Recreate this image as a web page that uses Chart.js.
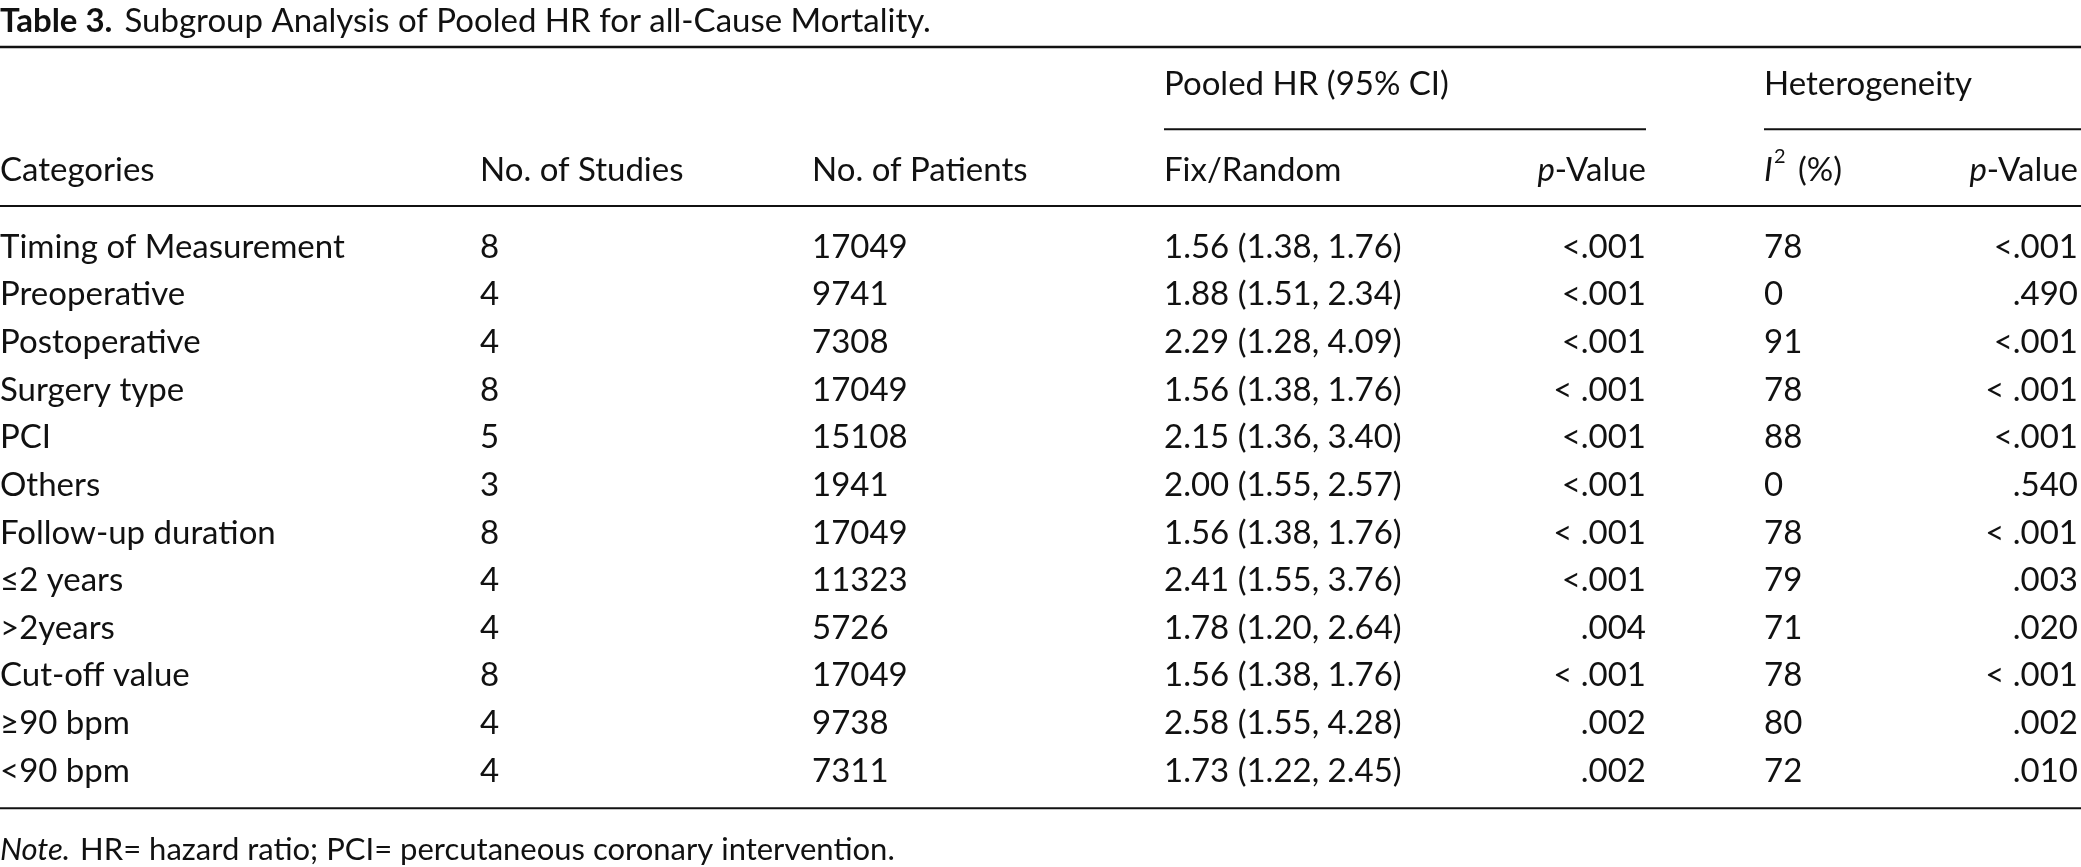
<!DOCTYPE html>
<html lang="en">
<head>
<meta charset="UTF-8">
<title>Table 3</title>
<script src="https://cdn.jsdelivr.net/npm/chart.js"></script>
<style>
  html, body { margin: 0; padding: 0; background: #fff; }
  #wrap { width: 2081px; height: 867px; }
</style>
</head>
<body>
<div id="wrap"><canvas id="tbl"></canvas></div>
<script>
const categories = ['Timing of Measurement', 'Preoperative', 'Postoperative', 'Surgery type', 'PCI', 'Others',
  'Follow-up duration', '≤2 years', '>2years', 'Cut-off value', '≥90 bpm', '<90 bpm'];
const studies = ['8', '4', '4', '8', '5', '3', '8', '4', '4', '8', '4', '4'];
const patients = ['17049', '9741', '7308', '17049', '15108', '1941', '17049', '11323', '5726', '17049', '9738', '7311'];
const pooledHR = ['1.56 (1.38, 1.76)', '1.88 (1.51, 2.34)', '2.29 (1.28, 4.09)', '1.56 (1.38, 1.76)', '2.15 (1.36, 3.40)',
  '2.00 (1.55, 2.57)', '1.56 (1.38, 1.76)', '2.41 (1.55, 3.76)', '1.78 (1.20, 2.64)', '1.56 (1.38, 1.76)',
  '2.58 (1.55, 4.28)', '1.73 (1.22, 2.45)'];
const pHR = ['<.001', '<.001', '<.001', '< .001', '<.001', '<.001', '< .001', '<.001', '.004', '< .001', '.002', '.002'];
const i2 = ['78', '0', '91', '78', '88', '0', '78', '79', '71', '78', '80', '72'];
const pHet = ['<.001', '.490', '<.001', '< .001', '<.001', '.540', '< .001', '.003', '.020', '< .001', '.002', '.010'];

const FONT = '"Lato", "Open Sans", sans-serif';
const SIZE = 33;

// one hidden point per row so the rows live on the chart's own scales
const rowPoints = categories.map((c, i) => ({ x: 0, y: i }));

const tablePlugin = {
  id: 'tablePlugin',
  afterDraw(chart) {
    const c = chart.ctx;
    const xs = chart.scales.x, ys = chart.scales.y;
    const X = v => xs.getPixelForValue(v);
    const Y = r => ys.getPixelForValue(r);
    c.save();
    c.fillStyle = '#111';
    c.strokeStyle = '#111';
    c.textBaseline = 'middle';

    const txt = (s, x, y, align, style, size) => {
      c.font = (style || '') + ' ' + (size || SIZE) + 'px ' + FONT;
      c.textAlign = align || 'left';
      c.fillText(s, x, y);
    };
    const rule = (y, x0, x1, w) => {
      c.lineWidth = w;
      c.beginPath(); c.moveTo(x0, y); c.lineTo(x1, y); c.stroke();
    };
    // p-Value header with italic p, right aligned at xr
    const pValue = (xr, y) => {
      c.font = SIZE + 'px ' + FONT;
      const w2 = c.measureText('-Value').width;
      txt('-Value', xr, y, 'right');
      txt('p', xr - w2, y, 'right', 'italic');
    };

    // title
    c.font = 'bold ' + SIZE + 'px ' + FONT;
    const tw = c.measureText('Table 3.').width;
    txt('Table 3.', 0, 21, 'left', 'bold');
    txt('Subgroup Analysis of Pooled HR for all-Cause Mortality.', tw + 12, 21);

    const left = 0, right = chart.width;
    rule(Y(-4.2), left, right, 2.5);
    txt('Pooled HR (95% CI)', X(1164), Y(-3.42));
    txt('Heterogeneity', X(1764), Y(-3.42));
    rule(Y(-2.47), X(1164), X(1646), 2);
    rule(Y(-2.47), X(1764), right, 2);
    const hy = Y(-1.6);
    txt('Categories', X(0), hy);
    txt('No. of Studies', X(480), hy);
    txt('No. of Patients', X(812), hy);
    txt('Fix/Random', X(1164), hy);
    pValue(X(1646), hy);
    txt('I', X(1764), hy, 'left', 'italic');
    txt('2', X(1764) + 10, hy - 14, 'left', '', 20);
    txt('(%)', X(1764) + 34, hy);
    pValue(X(2078), hy);
    rule(Y(-0.86), left, right, 2);

    categories.forEach((cat, i) => {
      const y = Y(i);
      txt(cat, X(0), y);
      txt(studies[i], X(480), y);
      txt(patients[i], X(812), y);
      txt(pooledHR[i], X(1164), y);
      txt(pHR[i], X(1646), y, 'right');
      txt(i2[i], X(1764), y);
      txt(pHet[i], X(2078), y, 'right');
    });

    rule(Y(11.78), left, right, 2);
    c.font = 'italic 31px ' + FONT;
    const nw = c.measureText('Note.').width;
    txt('Note.', 0, Y(12.65), 'left', 'italic', 31);
    txt('HR= hazard ratio; PCI= percutaneous coronary intervention.', nw + 10, Y(12.65), 'left', '', 31);
    c.restore();
  }
};

new Chart(document.getElementById('tbl'), {
  type: 'scatter',
  data: { datasets: [{ data: rowPoints, pointRadius: 0, showLine: false }] },
  options: {
    responsive: true,
    maintainAspectRatio: false,
    animation: false,
    layout: { padding: 0 },
    plugins: { legend: { display: false }, tooltip: { enabled: false } },
    scales: {
      x: { type: 'linear', min: 0, max: 2081, display: false },
      // row index axis: row 0 sits at 247px, 47.65px per row
      y: { type: 'linear', reverse: true, min: -5.184, max: 13.012, display: false }
    }
  },
  plugins: [tablePlugin]
});
</script>
</body>
</html>
